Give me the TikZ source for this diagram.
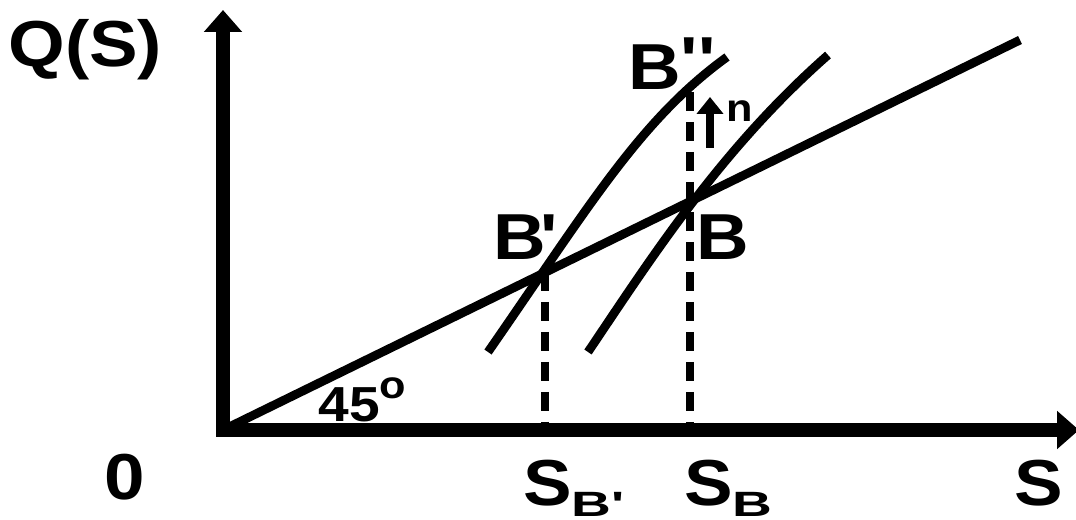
\documentclass[tikz,border=0pt]{standalone}
\usepackage{graphicx}
\usepackage{fontspec}
\setmainfont{Liberation Sans}
\usetikzlibrary{arrows.meta}
\newcommand{\lblsize}{\fontsize{37}{40}\selectfont}
\newcommand{\subB}[1]{\raisebox{-6.5pt}{\scalebox{1.4}[1]{\fontsize{20}{20}\selectfont B#1}}}
\tikzset{axis/.style={line width=8.5pt, line join=miter},
  curve/.style={line width=5pt},
  guide/.style={line width=4.5pt, dash pattern=on 0.38cm off 0.22cm},
  lbl/.style={inner sep=0pt, anchor=base west, font=\bfseries\lblsize, xscale=1.12, transform shape},
  axtip/.tip={Triangle[width=0.74cm,length=0.44cm]}}

\begin{document}
\begin{tikzpicture}[x=0.02cm, y=-0.02cm]
\useasboundingbox (0,0) rectangle (1076,520);

\coordinate (O) at (223,430);
\coordinate (ytip) at (223,10);
\coordinate (xtip) at (1079,430);
\coordinate (lend) at (1020,40);
\coordinate (Bp) at (545,272);
\coordinate (B) at (690,201);
\coordinate (Btop) at (690,92);
\coordinate (SBp) at (545,430);
\coordinate (SB) at (690,430);
\coordinate (nfoot) at (710,148);
\coordinate (nhead) at (710,97);

% 45 degree line and the two curves
\draw[curve] (O) -- (lend);
\draw[curve] (488,352) .. controls (590,205) and (640,120) .. (727,57);
\draw[curve] (588,352) .. controls (650,260) and (720,150) .. (828,55);

\draw[guide] (Bp) -- (SBp);
\draw[guide] (Btop) -- (SB);
\draw[line width=4.5pt, -{Triangle[width=0.52cm,length=0.34cm]}] (nfoot) -- (nhead);

\draw[axis, axtip-axtip] (ytip) -- (O) -- (xtip);

\node[lbl] (qs) at (8,67) {Q(S)};
\node[lbl] (zero) at (104,500) {0};
\node[lbl] (sbp) at (523,505) {S\subB{\textquotesingle}};
\node[lbl] (sb) at (684,505) {S\subB{}};
\node[lbl] (s) at (1014,505) {S};
\node[lbl] (bpp) at (628,90) {B\raisebox{4pt}{\textquotesingle\textquotesingle}};
\node[lbl] (bp) at (493,260) {B\kern-3pt\textquotesingle};
\node[lbl] (b) at (696,260) {B};
\node[lbl, font=\bfseries\fontsize{28}{30}\selectfont] (deg) at (318,421) {45\raisebox{13pt}{\fontsize{22}{22}\selectfont o}};
\node[lbl, font=\bfseries\fontsize{22}{24}\selectfont] (n) at (726,122) {n};

\end{tikzpicture}
\end{document}
